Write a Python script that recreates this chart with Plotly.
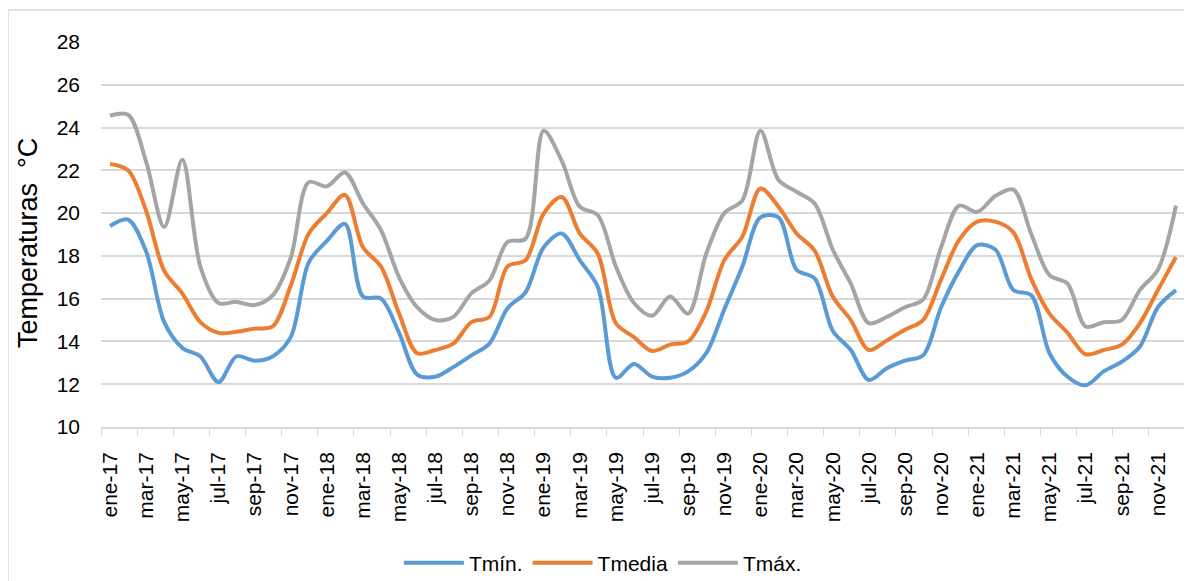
import plotly.graph_objects as go

months = ["ene", "feb", "mar", "abr", "may", "jun", "jul", "ago", "sep", "oct", "nov", "dic"]
years = ["17", "18", "19", "20", "21"]
categories = [f"{m}-{y}" for y in years for m in months]

tmin = [19.4, 19.7, 18.2, 14.9, 13.7, 13.3, 12.1, 13.3, 13.1, 13.3, 14.2, 17.7,
        18.7, 19.5, 16.1, 16.0, 14.4, 12.45, 12.35, 12.8, 13.35, 13.9, 15.55, 16.3,
        18.4, 19.05, 17.8, 16.55, 12.3, 12.95, 12.36, 12.3, 12.6, 13.45, 15.5, 17.5,
        19.8, 19.8, 17.35, 16.95, 14.5, 13.6, 12.2, 12.75, 13.1, 13.35, 15.6, 17.3,
        18.5, 18.3, 16.4, 16.15, 13.45, 12.35, 11.95, 12.6, 13.05, 13.75, 15.6, 16.4]

tmedia = [22.3, 22.0, 20.1, 17.3, 16.25, 14.9, 14.4, 14.45, 14.6, 14.7, 16.6, 19.05,
          20.0, 20.85, 18.4, 17.5, 15.3, 13.45, 13.6, 13.9, 14.9, 15.15, 17.5, 17.8,
          19.98, 20.75, 19.05, 18.1, 14.85, 14.2, 13.55, 13.85, 14.0, 15.4, 17.8, 18.9,
          21.15, 20.3, 19.05, 18.25, 16.1, 15.0, 13.6, 14.05, 14.55, 15.0, 16.9, 18.75,
          19.6, 19.6, 19.1, 16.9, 15.3, 14.4, 13.4, 13.6, 13.85, 14.85, 16.4, 17.95]

tmax = [24.55, 24.6, 22.4, 19.35, 22.5, 17.5, 15.8, 15.85, 15.7, 16.15, 17.9, 21.45,
        21.25, 21.9, 20.45, 19.2, 17.0, 15.6, 15.0, 15.15, 16.25, 16.85, 18.65, 18.8,
        23.85, 22.45, 20.3, 19.9, 17.5, 15.8, 15.2, 16.1, 15.3, 18.1, 20.0, 20.6,
        23.85, 21.55, 21.0, 20.45, 18.3, 16.7, 14.85, 15.15, 15.6, 15.95, 18.4, 20.35,
        20.05, 20.8, 21.1, 19.0, 17.1, 16.7, 14.7, 14.9, 15.0, 16.4, 17.35, 20.35]

series = [("Tmín.", tmin, "#5B9BD5"), ("Tmedia", tmedia, "#ED7D31"), ("Tmáx.", tmax, "#A5A5A5")]

FONT = "Liberation Sans, Arial, sans-serif"

fig = go.Figure()
for name, vals, color in series:
    fig.add_trace(go.Scatter(
        x=categories, y=vals, name=name, mode="lines",
        line=dict(color=color, width=4, shape="spline", smoothing=0.9),
    ))

# page body has a default 8px margin: compensate so the plot lands where the reference has it
fig.update_layout(
    width=1184, height=573, autosize=False,
    margin=dict(l=93, r=7, t=34, b=154, autoexpand=False),
    paper_bgcolor="white", plot_bgcolor="white",
    font=dict(family=FONT, size=21, color="#000000"),
    showlegend=True,
    legend=dict(orientation="h", x=0.463, xanchor="center", y=-0.30, yanchor="top",
                font=dict(size=21), itemwidth=60, tracegroupgap=0),
    xaxis=dict(
        type="category", range=[-0.5, 59.5], dtick=2, tickangle=-90,
        tickson="boundaries", ticks="outside", ticklen=7, tickcolor="#D9D9D9",
        showline=True, linecolor="#D9D9D9", linewidth=1.5,
        showgrid=False, tickfont=dict(size=21), ticklabelstandoff=15,
        fixedrange=True, automargin=False,
    ),
    yaxis=dict(
        range=[10, 28], dtick=2, showgrid=True, gridcolor="#D9D9D9", gridwidth=1.5,
        zeroline=False, showline=False, ticks="", tickfont=dict(size=21),
        ticklabelstandoff=20, fixedrange=True, automargin=False,
    ),
    annotations=[dict(
        text="Temperaturas\u00a0\u00a0°C", textangle=-90, xref="paper", yref="paper",
        x=-0.0673, y=0.478, xanchor="center", yanchor="middle", showarrow=False,
        font=dict(size=27, family=FONT),
    )],
    shapes=[dict(
        type="rect", xref="paper", yref="paper",
        x0=-0.0858, x1=1.02, y0=-0.6, y1=1.083,
        line=dict(color="#D9D9D9", width=1.5), layer="below",
    )],
)

fig.write_html("out.html")
